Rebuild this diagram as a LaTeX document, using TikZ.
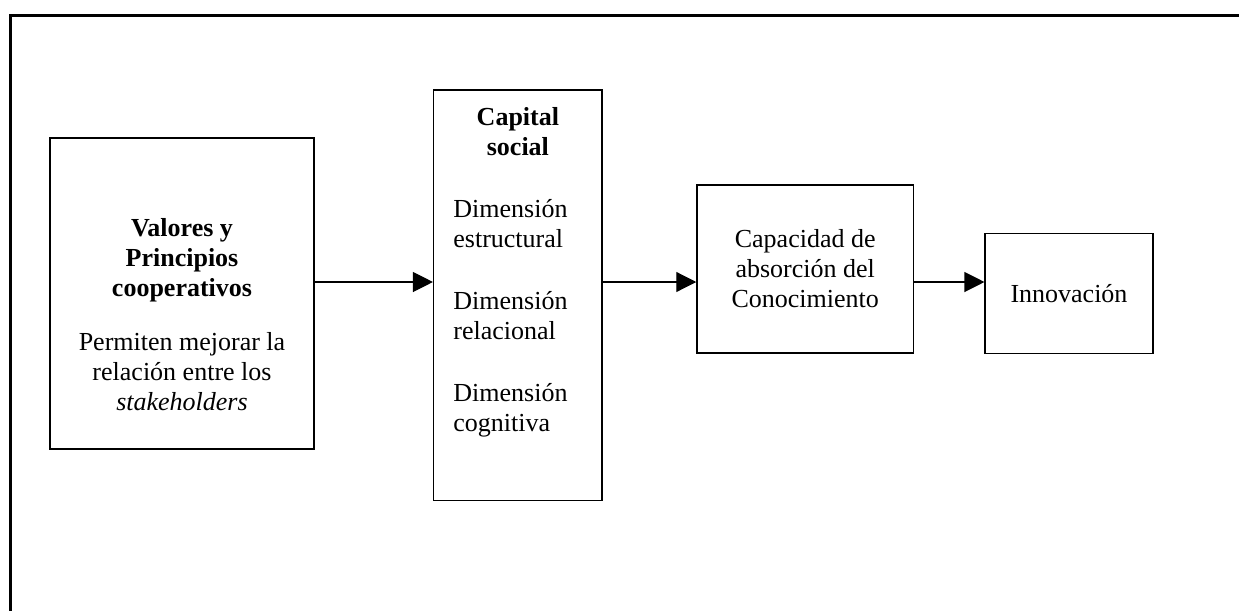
\documentclass[tikz,border=0pt]{standalone}
\usepackage{fontspec}
\setmainfont{Liberation Serif}
\usetikzlibrary{arrows.meta, positioning}

\tikzset{
  box/.style={draw, line width=0.75pt, rectangle, inner sep=0pt, align=center},
  boxtext/.style={inner sep=0pt},
  flow/.style={-{Triangle[length=10pt, width=10pt]}, line width=0.6pt},
}

\begin{document}
\begin{tikzpicture}[x=0.5pt, y=-0.5pt, font=\fontsize{13}{15}\selectfont]
  \useasboundingbox (0,0) rectangle (1239,611);
  % frame, open at the right and at the bottom
  \draw[line width=1.3pt] (10.3,611) -- (10.3,15.3) -- (1239,15.3);

  % boxes
  \node[box, minimum width=132pt, minimum height=155.5pt] (valores) at (182,293.5) {};
  \node[box, minimum width=84.2pt, minimum height=205.3pt] (capital) at (517.9,295.3) {};
  \node[box, minimum width=108.2pt, minimum height=83.9pt] (capacidad) at (805.2,268.9)
    {Capacidad de\\ absorción del\\ Conocimiento};
  \node[box, minimum width=83.8pt, minimum height=59.9pt] (innovacion) at (1069,293.6)
    {Innovación};

  % texts of the first two boxes
  \node[boxtext, align=center, below=40.5pt of valores.north] (valores-txt)
    {\textbf{Valores y}\\ \textbf{Principios}\\ \textbf{cooperativos}\\[12pt]
     Permiten mejorar la\\ relación entre los\\ \textit{stakeholders}};
  \node[boxtext, text width=64.5pt, align=left, below=9pt of capital.north] (capital-txt)
    {{\centering\bfseries Capital\\ social\par}
     \vspace{16pt}
     Dimensión\\ estructural\\[16pt]
     Dimensión\\ relacional\\[16pt]
     Dimensión\\ cognitiva};

  % arrows
  \coordinate (axis) at (0,282);
  \draw[flow] (valores.east |- axis) -- (capital.west |- axis);
  \draw[flow] (capital.east |- axis) -- (capacidad.west |- axis);
  \draw[flow] (capacidad.east |- axis) -- (innovacion.west |- axis);
\end{tikzpicture}
\end{document}
